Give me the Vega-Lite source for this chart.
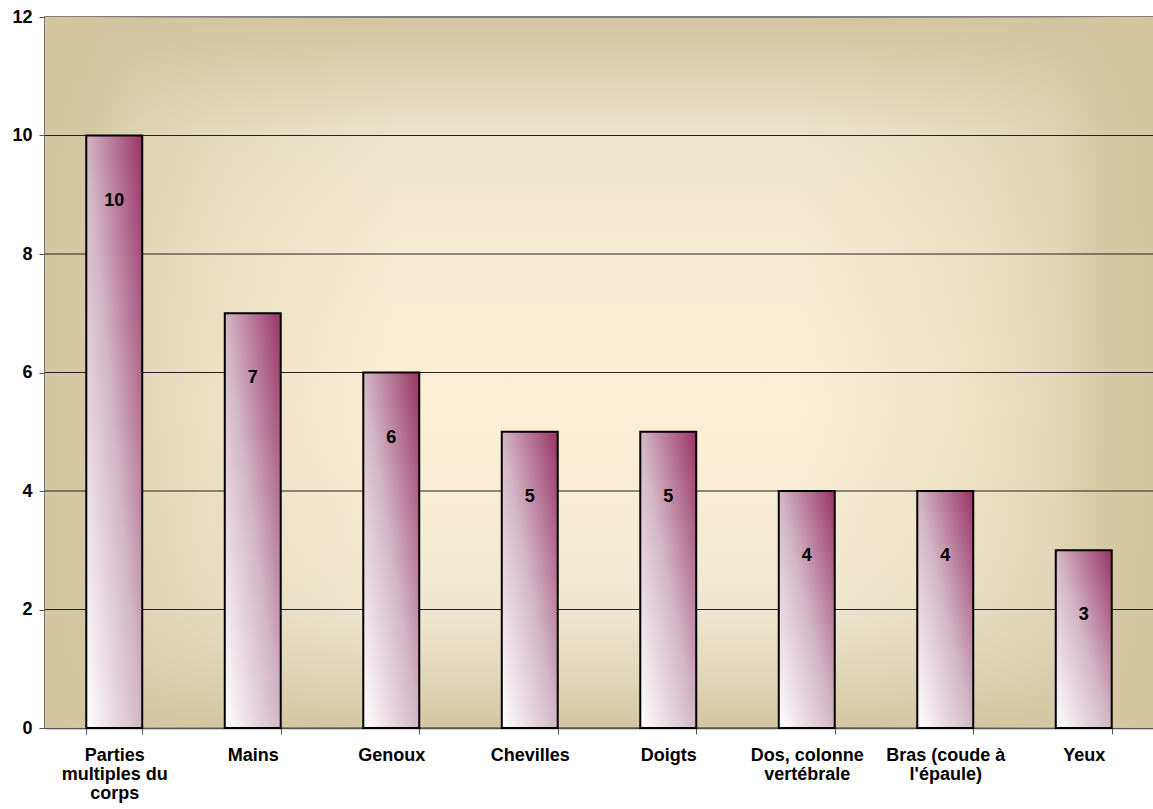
{
  "$schema": "https://vega.github.io/schema/vega-lite/v6.json",
  "autosize": "none",
  "width": 1108,
  "height": 711,
  "padding": {"left": 45, "top": 17, "right": 0, "bottom": 81},
  "background": "#ffffff",
  "config": {
    "font": "Liberation Sans",
    "view": {
      "stroke": "#808080",
      "strokeWidth": 2,
      "fill": {
        "gradient": "linear",
        "x1": 0, "y1": 0, "x2": 0, "y2": 1,
        "stops": [
          {"offset": 0, "color": "#d2c49f"},
          {"offset": 0.06, "color": "#dacfae"},
          {"offset": 0.11, "color": "#e3d9bc"},
          {"offset": 0.17, "color": "#ede6cd"},
          {"offset": 0.32, "color": "#f6ecd3"},
          {"offset": 0.55, "color": "#fdefd6"},
          {"offset": 0.74, "color": "#f5ecd4"},
          {"offset": 0.83, "color": "#efe8d0"},
          {"offset": 0.9, "color": "#e5dcc1"},
          {"offset": 0.96, "color": "#dad0b0"},
          {"offset": 1, "color": "#d3c6a1"}
        ]
      }
    }
  },
  "datasets": {
    "blessures": [
      {"partie": "Parties multiples du corps", "n": 10},
      {"partie": "Mains", "n": 7},
      {"partie": "Genoux", "n": 6},
      {"partie": "Chevilles", "n": 5},
      {"partie": "Doigts", "n": 5},
      {"partie": "Dos, colonne vertébrale", "n": 4},
      {"partie": "Bras (coude à l'épaule)", "n": 4},
      {"partie": "Yeux", "n": 3}
    ],
    "quadrillage": [
      {"y": 2}, {"y": 4}, {"y": 6}, {"y": 8}, {"y": 10}
    ],
    "fond": [
      {"x0": 0, "x1": 1, "y0": 0, "y1": 12}
    ]
  },
  "resolve": {"scale": {"x": "independent"}, "axis": {"y": "independent"}},
  "layer": [
    {
      "description": "side shading of the plot background",
      "data": {"name": "fond"},
      "mark": {
        "type": "rect",
        "fill": {
          "gradient": "linear",
          "x1": 0, "y1": 0, "x2": 1, "y2": 0,
          "stops": [
            {"offset": 0, "color": "rgba(211,198,161,1)"},
            {"offset": 0.04, "color": "rgba(211,198,161,0.95)"},
            {"offset": 0.09, "color": "rgba(211,198,161,0.55)"},
            {"offset": 0.17, "color": "rgba(211,198,161,0.3)"},
            {"offset": 0.32, "color": "rgba(211,198,161,0)"},
            {"offset": 0.68, "color": "rgba(211,198,161,0)"},
            {"offset": 0.83, "color": "rgba(211,198,161,0.3)"},
            {"offset": 0.91, "color": "rgba(211,198,161,0.55)"},
            {"offset": 0.96, "color": "rgba(211,198,161,0.95)"},
            {"offset": 1, "color": "rgba(211,198,161,1)"}
          ]
        }
      },
      "encoding": {
        "x": {"field": "x0", "type": "quantitative", "scale": {"domain": [0, 1], "nice": false}, "axis": null},
        "x2": {"field": "x1"},
        "y": {"field": "y0", "type": "quantitative", "scale": {"domain": [0, 12], "nice": false}, "axis": null},
        "y2": {"field": "y1"}
      }
    },
    {
      "data": {"name": "quadrillage"},
      "mark": {"type": "rule", "color": "#222222", "strokeWidth": 1},
      "encoding": {
        "y": {"field": "y", "type": "quantitative", "scale": {"domain": [0, 12], "nice": false}, "axis": null}
      }
    },
    {
      "data": {"name": "blessures"},
      "encoding": {
        "x": {
          "field": "partie",
          "type": "nominal",
          "sort": null,
          "scale": {"paddingInner": 0.596, "paddingOuter": 0.298},
          "axis": {
            "title": null,
            "labelAngle": 0,
            "labelFont": "Liberation Sans",
            "labelFontSize": 18,
            "labelFontWeight": "bold",
            "labelColor": "#000000",
            "labelLimit": 300,
            "labelLineHeight": 19,
            "labelPadding": 12,
            "labelExpr": "datum.value == 'Parties multiples du corps' ? ['Parties', 'multiples du', 'corps'] : datum.value == 'Dos, colonne vertébrale' ? ['Dos, colonne', 'vertébrale'] : datum.value == \"Bras (coude à l'épaule)\" ? ['Bras (coude à', \"l'épaule)\"] : datum.value",
            "tickBand": "extent",
            "tickSize": 6,
            "tickColor": "#555555",
            "domainColor": "#555555",
            "domainWidth": 1.5
          }
        },
        "y": {
          "field": "n",
          "type": "quantitative",
          "scale": {"domain": [0, 12], "nice": false},
          "axis": {
            "title": null,
            "values": [0, 2, 4, 6, 8, 10, 12],
            "labelFont": "Liberation Sans",
            "labelFontSize": 18,
            "labelFontWeight": "bold",
            "labelColor": "#000000",
            "labelPadding": 7,
            "tickSize": 6,
            "tickColor": "#555555",
            "domainColor": "#555555",
            "domainWidth": 1.5,
            "grid": false
          }
        }
      },
      "layer": [
        {
          "mark": {
            "type": "bar",
            "stroke": "#000000",
            "strokeWidth": 2,
            "fill": {
              "gradient": "linear",
              "x1": 0, "y1": 1, "x2": 1, "y2": 0,
              "stops": [
                {"offset": 0, "color": "#ffffff"},
                {"offset": 0.5, "color": "#d3b6c5"},
                {"offset": 1, "color": "#993366"}
              ]
            }
          }
        },
        {
          "mark": {
            "type": "text",
            "dy": 65,
            "font": "Liberation Sans",
            "fontSize": 18,
            "fontWeight": "bold",
            "color": "#000000",
            "baseline": "middle"
          },
          "encoding": {"text": {"field": "n", "type": "quantitative"}}
        }
      ]
    }
  ]
}
